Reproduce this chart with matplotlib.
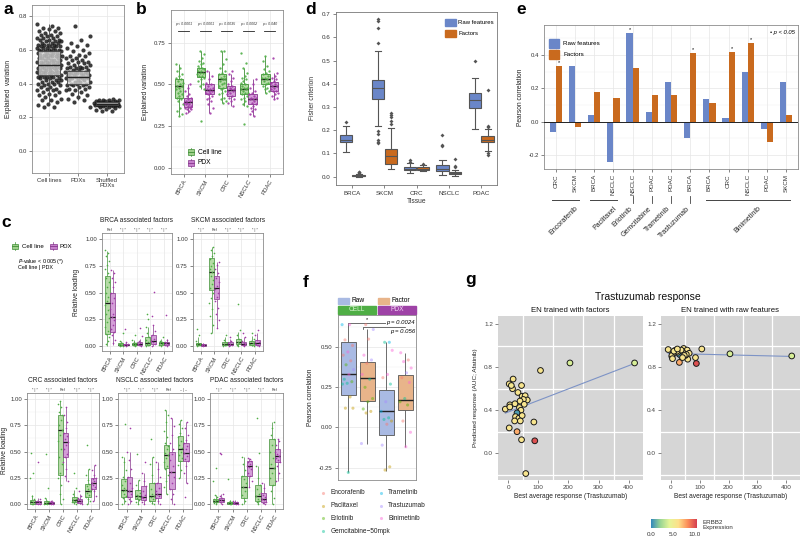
import numpy as np
import matplotlib
matplotlib.use("Agg")
import matplotlib.pyplot as plt
from matplotlib.patches import Rectangle
from matplotlib.transforms import blended_transform_factory as btf
from matplotlib.colors import LinearSegmentedColormap, Normalize

plt.rcParams['font.family'] = ['Liberation Sans', 'DejaVu Sans']
plt.rcParams['axes.linewidth'] = 0.6
plt.rcParams['axes.unicode_minus'] = False

# ============================ DATA ============================
# ---- panel a : explained variation ----
a_groups = ["Cell lines", "PDXs", "Shuffled\nPDXs"]
a_cell = [0.75, 0.74, 0.73, 0.73, 0.72, 0.71, 0.71, 0.70, 0.70, 0.69, 0.69, 0.68, 0.68, 0.67, 0.67, 0.67, 0.66, 0.66, 0.66, 0.65,
          0.65, 0.65, 0.64, 0.64, 0.64, 0.63, 0.63, 0.63, 0.63, 0.62, 0.62, 0.62, 0.62, 0.61, 0.61, 0.61, 0.61, 0.60, 0.60, 0.60,
          0.60, 0.59, 0.59, 0.59, 0.59, 0.58, 0.58, 0.58, 0.58, 0.57, 0.57, 0.57, 0.57, 0.56, 0.56, 0.56, 0.56, 0.55, 0.55, 0.55,
          0.55, 0.54, 0.54, 0.54, 0.54, 0.53, 0.53, 0.53, 0.53, 0.52, 0.52, 0.52, 0.52, 0.51, 0.51, 0.51, 0.51, 0.50, 0.50, 0.50,
          0.50, 0.49, 0.49, 0.49, 0.49, 0.48, 0.48, 0.48, 0.48, 0.47, 0.47, 0.47, 0.47, 0.46, 0.46, 0.46, 0.46, 0.45, 0.45, 0.45,
          0.45, 0.44, 0.44, 0.44, 0.44, 0.43, 0.43, 0.43, 0.42, 0.42, 0.42, 0.41, 0.41, 0.41, 0.40, 0.40, 0.40, 0.39, 0.39, 0.38,
          0.38, 0.37, 0.37, 0.36, 0.36, 0.35, 0.35, 0.34, 0.33, 0.33, 0.32, 0.31, 0.30, 0.30, 0.29, 0.28, 0.27, 0.26, 0.26]
a_pdx = [0.74, 0.68, 0.66, 0.64, 0.63, 0.62, 0.61, 0.60, 0.59, 0.58, 0.57, 0.56, 0.56, 0.55, 0.55, 0.54, 0.54, 0.53, 0.53, 0.52,
         0.52, 0.51, 0.51, 0.50, 0.50, 0.50, 0.49, 0.49, 0.49, 0.48, 0.48, 0.48, 0.47, 0.47, 0.47, 0.47, 0.46, 0.46, 0.46, 0.46,
         0.45, 0.45, 0.45, 0.45, 0.44, 0.44, 0.44, 0.44, 0.43, 0.43, 0.43, 0.43, 0.42, 0.42, 0.42, 0.41, 0.41, 0.41, 0.40, 0.40,
         0.40, 0.39, 0.39, 0.39, 0.38, 0.38, 0.37, 0.37, 0.36, 0.36, 0.35, 0.34, 0.33, 0.32, 0.31, 0.30, 0.29, 0.26]
a_shuf = [0.31, 0.305, 0.30, 0.30, 0.30, 0.295, 0.295, 0.295, 0.29, 0.29, 0.29, 0.29, 0.29, 0.285, 0.285, 0.285, 0.285, 0.285,
          0.28, 0.28, 0.28, 0.28, 0.28, 0.28, 0.28, 0.275, 0.275, 0.275, 0.275, 0.275, 0.27, 0.27, 0.27, 0.27, 0.265, 0.265,
          0.265, 0.26, 0.26, 0.255, 0.25, 0.245, 0.24, 0.235]
a_box = [(0.45, 0.51, 0.59, 0.27, 0.75), (0.40, 0.44, 0.475, 0.30, 0.58), (0.27, 0.28, 0.29, 0.25, 0.31)]  # q1, med, q3, lo, hi

# ---- panel b ----
tissues = ["BRCA", "SKCM", "CRC", "NSCLC", "PDAC"]
b_cell_box = [(0.42, 0.49, 0.535, 0.31, 0.62), (0.545, 0.575, 0.60, 0.47, 0.70), (0.48, 0.53, 0.56, 0.39, 0.70),
              (0.44, 0.475, 0.505, 0.37, 0.60), (0.50, 0.535, 0.565, 0.45, 0.67)]
b_pdx_box = [(0.365, 0.395, 0.42, 0.33, 0.50), (0.44, 0.465, 0.50, 0.33, 0.58), (0.43, 0.465, 0.49, 0.37, 0.56),
             (0.38, 0.415, 0.445, 0.31, 0.53), (0.46, 0.49, 0.515, 0.41, 0.57)]
b_cell_pts = [[0.62, 0.60, 0.58, 0.56, 0.55, 0.54, 0.53, 0.52, 0.51, 0.50, 0.49, 0.49, 0.48, 0.47, 0.46, 0.45, 0.44, 0.43, 0.42, 0.41, 0.40, 0.38, 0.36, 0.34, 0.32, 0.31],
              [0.70, 0.68, 0.66, 0.64, 0.63, 0.62, 0.61, 0.60, 0.60, 0.59, 0.58, 0.58, 0.57, 0.57, 0.56, 0.55, 0.55, 0.54, 0.53, 0.52, 0.50, 0.49, 0.47, 0.28],
              [0.70, 0.70, 0.65, 0.62, 0.60, 0.58, 0.57, 0.56, 0.55, 0.54, 0.53, 0.53, 0.52, 0.51, 0.50, 0.49, 0.48, 0.47, 0.46, 0.45, 0.44, 0.42, 0.41, 0.40, 0.39],
              [0.69, 0.63, 0.60, 0.57, 0.55, 0.54, 0.53, 0.52, 0.51, 0.50, 0.49, 0.48, 0.48, 0.47, 0.47, 0.46, 0.45, 0.45, 0.44, 0.43, 0.42, 0.41, 0.40, 0.38, 0.37, 0.26],
              [0.67, 0.64, 0.61, 0.59, 0.58, 0.57, 0.56, 0.55, 0.54, 0.54, 0.53, 0.52, 0.51, 0.50, 0.49, 0.48, 0.47, 0.46, 0.45]]
b_pdx_pts = [[0.50, 0.48, 0.46, 0.44, 0.43, 0.42, 0.41, 0.40, 0.40, 0.39, 0.39, 0.38, 0.38, 0.37, 0.37, 0.36, 0.36, 0.35, 0.35, 0.34, 0.33],
             [0.58, 0.55, 0.53, 0.51, 0.50, 0.49, 0.48, 0.47, 0.47, 0.46, 0.46, 0.45, 0.45, 0.44, 0.43, 0.42, 0.41, 0.40, 0.38, 0.36, 0.33],
             [0.58, 0.56, 0.54, 0.52, 0.50, 0.49, 0.48, 0.47, 0.47, 0.46, 0.46, 0.45, 0.44, 0.43, 0.42, 0.41, 0.40, 0.39, 0.37],
             [0.53, 0.50, 0.48, 0.46, 0.45, 0.44, 0.43, 0.42, 0.42, 0.41, 0.41, 0.40, 0.39, 0.38, 0.37, 0.36, 0.35, 0.34, 0.32, 0.31],
             [0.66, 0.57, 0.55, 0.54, 0.53, 0.52, 0.51, 0.50, 0.49, 0.49, 0.48, 0.47, 0.46, 0.46, 0.45, 0.44, 0.43, 0.42, 0.41]]
b_pvals = ["p < 0.0001", "p < 0.0001", "p = 0.0035", "p = 0.0002", "p = 0.040"]

# ---- panel c : relative loadings (q1, med, q3, lo, hi) per tissue ----
c_panels = ["BRCA", "SKCM", "CRC", "NSCLC", "PDAC"]
c_brca_cell = [(0.11, 0.40, 0.66, 0.0, 0.89), (0.005, 0.01, 0.025, 0.0, 0.05), (0.005, 0.015, 0.03, 0.0, 0.06), (0.01, 0.03, 0.08, 0.0, 0.18), (0.01, 0.025, 0.04, 0.0, 0.07)]
c_brca_pdx = [(0.13, 0.27, 0.50, 0.01, 0.71), (0.005, 0.01, 0.02, 0.0, 0.04), (0.01, 0.02, 0.035, 0.0, 0.07), (0.02, 0.05, 0.10, 0.0, 0.20), (0.01, 0.025, 0.04, 0.0, 0.07)]
c_skcm_cell = [(0.005, 0.015, 0.03, 0.0, 0.08), (0.52, 0.69, 0.82, 0.12, 0.93), (0.01, 0.02, 0.04, 0.0, 0.08), (0.02, 0.04, 0.07, 0.0, 0.13), (0.01, 0.025, 0.045, 0.0, 0.09)]
c_skcm_pdx = [(0.003, 0.008, 0.015, 0.0, 0.03), (0.44, 0.54, 0.66, 0.17, 0.79), (0.01, 0.02, 0.035, 0.0, 0.07), (0.01, 0.02, 0.04, 0.0, 0.08), (0.01, 0.03, 0.06, 0.0, 0.12)]
c_crc_cell = [(0.005, 0.02, 0.04, 0.0, 0.09), (0.005, 0.01, 0.03, 0.0, 0.06), (0.28, 0.71, 0.85, 0.0, 0.98), (0.02, 0.04, 0.07, 0.0, 0.13), (0.07, 0.12, 0.19, 0.0, 0.33)]
c_crc_pdx = [(0.005, 0.015, 0.03, 0.0, 0.06), (0.005, 0.01, 0.02, 0.0, 0.04), (0.45, 0.59, 0.68, 0.22, 0.92), (0.01, 0.03, 0.05, 0.0, 0.10), (0.14, 0.20, 0.25, 0.03, 0.37)]
c_nsclc_cell = [(0.07, 0.13, 0.24, 0.0, 0.45), (0.05, 0.08, 0.13, 0.0, 0.23), (0.03, 0.08, 0.20, 0.0, 0.45), (0.34, 0.47, 0.56, 0.10, 0.90), (0.41, 0.52, 0.65, 0.25, 0.80)]
c_nsclc_pdx = [(0.07, 0.12, 0.26, 0.0, 0.50), (0.04, 0.07, 0.17, 0.0, 0.30), (0.06, 0.10, 0.20, 0.0, 0.40), (0.14, 0.31, 0.50, 0.0, 0.82), (0.41, 0.49, 0.58, 0.20, 0.78)]
c_pdac_cell = [(0.02, 0.03, 0.05, 0.0, 0.09), (0.005, 0.01, 0.02, 0.0, 0.04), (0.06, 0.16, 0.27, 0.0, 0.45), (0.03, 0.08, 0.18, 0.0, 0.36), (0.18, 0.34, 0.62, 0.0, 0.78)]
c_pdac_pdx = [(0.02, 0.035, 0.06, 0.0, 0.10), (0.005, 0.01, 0.02, 0.0, 0.04), (0.27, 0.36, 0.41, 0.16, 0.44), (0.02, 0.05, 0.11, 0.0, 0.20), (0.40, 0.46, 0.52, 0.22, 0.62)]

c_brca_cell_pts = [[0.90, 0.87, 0.84, 0.80, 0.76, 0.72, 0.68, 0.64, 0.60, 0.55, 0.50, 0.46, 0.42, 0.38, 0.34, 0.30, 0.26, 0.22, 0.18, 0.14, 0.11, 0.08, 0.05, 0.02],
                   [0.0, 0.0, 0.005, 0.01, 0.01, 0.015, 0.02, 0.03, 0.05, 0.12], [0.0, 0.005, 0.01, 0.015, 0.02, 0.03, 0.04, 0.06, 0.10],
                   [0.0, 0.01, 0.02, 0.03, 0.04, 0.06, 0.08, 0.12, 0.18, 0.25, 0.30], [0.0, 0.01, 0.02, 0.025, 0.03, 0.04, 0.05, 0.08]]
c_brca_pdx_pts = [[0.71, 0.68, 0.64, 0.60, 0.55, 0.50, 0.45, 0.40, 0.35, 0.30, 0.27, 0.24, 0.20, 0.16, 0.13, 0.10, 0.06, 0.03],
                  [0.0, 0.005, 0.01, 0.015, 0.02, 0.04, 0.16], [0.0, 0.01, 0.02, 0.03, 0.05, 0.09, 0.17],
                  [0.0, 0.02, 0.04, 0.05, 0.07, 0.10, 0.14, 0.20, 0.28, 0.51], [0.0, 0.01, 0.02, 0.03, 0.04, 0.06, 0.29]]
c_skcm_cell_pts = [[0.0, 0.005, 0.01, 0.015, 0.02, 0.03, 0.05, 0.10, 0.16],
                   [0.93, 0.90, 0.87, 0.84, 0.81, 0.78, 0.75, 0.72, 0.69, 0.66, 0.62, 0.58, 0.54, 0.50, 0.45, 0.40, 0.35, 0.28, 0.20, 0.12],
                   [0.0, 0.01, 0.02, 0.03, 0.04, 0.06, 0.10], [0.0, 0.01, 0.03, 0.04, 0.05, 0.07, 0.10, 0.15, 0.39], [0.0, 0.01, 0.02, 0.03, 0.05, 0.07, 0.12]]
c_skcm_pdx_pts = [[0.0, 0.005, 0.01, 0.02],
                  [0.79, 0.76, 0.72, 0.68, 0.64, 0.60, 0.56, 0.53, 0.50, 0.46, 0.42, 0.36, 0.30, 0.24, 0.17],
                  [0.0, 0.01, 0.02, 0.03, 0.05, 0.08], [0.0, 0.01, 0.02, 0.03, 0.05, 0.08, 0.12], [0.0, 0.01, 0.02, 0.04, 0.06, 0.10, 0.15]]
c_crc_cell_pts = [[0.0, 0.005, 0.01, 0.02, 0.03, 0.05, 0.08, 0.25, 0.30, 0.49], [0.0, 0.005, 0.01, 0.02, 0.03, 0.06, 0.15, 0.48],
                  [0.98, 0.95, 0.92, 0.88, 0.85, 0.80, 0.75, 0.71, 0.66, 0.60, 0.52, 0.45, 0.38, 0.30, 0.25, 0.18, 0.10, 0.05, 0.0],
                  [0.0, 0.01, 0.02, 0.03, 0.04, 0.05, 0.07, 0.10, 0.15, 0.30],
                  [0.0, 0.03, 0.05, 0.07, 0.09, 0.11, 0.12, 0.14, 0.17, 0.19, 0.23, 0.28, 0.33, 0.56]]
c_crc_pdx_pts = [[0.0, 0.005, 0.01, 0.02, 0.03, 0.05, 0.40], [0.0, 0.005, 0.01, 0.015, 0.02, 0.03],
                 [0.92, 0.85, 0.78, 0.72, 0.68, 0.65, 0.62, 0.59, 0.56, 0.52, 0.48, 0.45, 0.40, 0.33, 0.27, 0.22],
                 [0.0, 0.01, 0.02, 0.03, 0.04, 0.06, 0.08, 0.12],
                 [0.03, 0.08, 0.12, 0.14, 0.16, 0.18, 0.20, 0.22, 0.24, 0.25, 0.28, 0.32, 0.37]]
c_nsclc_cell_pts = [[0.0, 0.03, 0.06, 0.08, 0.10, 0.12, 0.13, 0.15, 0.18, 0.22, 0.26, 0.32, 0.40, 0.45, 0.76],
                    [0.0, 0.02, 0.04, 0.06, 0.07, 0.08, 0.09, 0.11, 0.13, 0.18, 0.23, 0.48],
                    [0.0, 0.01, 0.03, 0.05, 0.07, 0.08, 0.10, 0.14, 0.20, 0.28, 0.38, 0.45, 0.62],
                    [0.90, 0.85, 0.78, 0.70, 0.64, 0.58, 0.55, 0.52, 0.49, 0.47, 0.44, 0.40, 0.36, 0.33, 0.28, 0.22, 0.16, 0.10],
                    [0.80, 0.76, 0.72, 0.68, 0.64, 0.60, 0.56, 0.53, 0.50, 0.47, 0.44, 0.41, 0.37, 0.32, 0.25]]
c_nsclc_pdx_pts = [[0.0, 0.03, 0.05, 0.07, 0.10, 0.12, 0.15, 0.20, 0.26, 0.33, 0.42, 0.50, 0.72],
                   [0.0, 0.02, 0.04, 0.06, 0.07, 0.09, 0.12, 0.17, 0.22, 0.30, 0.40],
                   [0.0, 0.03, 0.06, 0.08, 0.10, 0.12, 0.15, 0.20, 0.26, 0.33, 0.40],
                   [0.82, 0.74, 0.66, 0.58, 0.52, 0.48, 0.42, 0.36, 0.31, 0.26, 0.20, 0.14, 0.10, 0.05, 0.0],
                   [0.78, 0.72, 0.66, 0.61, 0.58, 0.55, 0.52, 0.49, 0.46, 0.43, 0.41, 0.36, 0.30, 0.20, 0.07]]
c_pdac_cell_pts = [[0.0, 0.01, 0.02, 0.03, 0.035, 0.04, 0.05, 0.07, 0.09, 0.22, 0.34], [0.0, 0.005, 0.01, 0.01, 0.015, 0.02, 0.03, 0.24],
                   [0.0, 0.03, 0.06, 0.09, 0.12, 0.16, 0.20, 0.24, 0.27, 0.32, 0.38, 0.45],
                   [0.0, 0.02, 0.03, 0.05, 0.08, 0.10, 0.14, 0.18, 0.25, 0.36, 0.49, 0.82],
                   [0.78, 0.72, 0.66, 0.62, 0.56, 0.50, 0.44, 0.38, 0.34, 0.30, 0.25, 0.18, 0.12, 0.06, 0.0]]
c_pdac_pdx_pts = [[0.0, 0.02, 0.03, 0.04, 0.05, 0.06, 0.08, 0.10, 0.48, 0.49], [0.0, 0.005, 0.01, 0.015, 0.02, 0.03],
                  [0.16, 0.22, 0.27, 0.30, 0.33, 0.35, 0.36, 0.38, 0.40, 0.41, 0.43, 0.44],
                  [0.0, 0.01, 0.02, 0.04, 0.05, 0.07, 0.09, 0.11, 0.15, 0.20],
                  [0.22, 0.30, 0.36, 0.40, 0.42, 0.44, 0.46, 0.48, 0.50, 0.52, 0.56, 0.60, 0.62]]
c_marks = [["Ref", "* | *", "* | *", "* | *", "* | *"],
           ["* | *", "Ref", "* | *", "* | *", "* | *"],
           ["* | *", "* | *", "Ref", "* | *", "* | *"],
           ["* | *", "* | *", "* | *", "Ref", "\u2013 | \u2013"],
           ["* | *", "* | *", "* | *", "* | *", "Ref"]]

# ---- panel d : Fisher criterion ----
d_raw_box = [(0.148, 0.16, 0.178, 0.108, 0.218), (0.333, 0.38, 0.418, 0.218, 0.54), (0.030, 0.035, 0.042, 0.015, 0.06),
             (0.025, 0.035, 0.05, 0.005, 0.07), (0.295, 0.33, 0.36, 0.205, 0.425)]
d_fac_box = [(0.001, 0.003, 0.006, 0.0, 0.012), (0.055, 0.088, 0.12, 0.035, 0.21), (0.030, 0.035, 0.04, 0.025, 0.05),
             (0.010, 0.015, 0.02, 0.002, 0.03), (0.148, 0.16, 0.175, 0.11, 0.205)]
d_raw_fliers = [[0.235], [0.578, 0.642, 0.673, 0.68, 0.195, 0.185, 0.16, 0.15, 0.145], [0.065, 0.072], [0.13, 0.135, 0.18], [0.50]]
d_fac_fliers = [[0.015, 0.018, 0.021], [0.225, 0.24, 0.255, 0.265, 0.275], [0.055], [0.04, 0.045, 0.078], [0.215, 0.22, 0.372, 0.10, 0.095]]

# ---- panel e : Pearson correlation per drug / tissue ----
e_tissues = ["CRC", "SKCM", "BRCA", "NSCLC", "NSCLC", "PDAC", "PDAC", "BRCA", "BRCA", "CRC", "NSCLC", "PDAC", "SKCM"]
e_raw = [-0.06, 0.335, 0.04, -0.245, 0.53, 0.06, 0.235, -0.10, 0.135, 0.02, 0.30, -0.045, 0.24]
e_fac = [0.335, -0.035, 0.18, 0.14, 0.32, 0.16, 0.16, 0.41, 0.11, 0.42, 0.47, -0.12, 0.04]
e_sig_raw = [0, 0, 0, 0, 1, 0, 0, 0, 0, 0, 0, 0, 0]
e_sig_fac = [1, 0, 0, 0, 0, 0, 0, 1, 0, 1, 1, 0, 0]
e_drugs = ["Encorafenib", "Paclitaxel", "Erlotinib", "Gemcitabine", "Trametinib", "Trastuzumab", "Binimetinib"]
e_drug_span = [(1, 2), (3, 4), (5, 5), (6, 6), (7, 7), (8, 8), (9, 13)]

# ---- panel f ----
f_labels = ["Raw", "Factor", "Raw", "Factor"]
f_box = [(0.20, 0.335, 0.535, -0.28, 0.64), (0.165, 0.305, 0.41, -0.10, 0.61),
         (-0.05, 0.10, 0.235, -0.27, 0.53), (0.11, 0.17, 0.325, -0.12, 0.465)]
f_drugs = ["Encorafenib", "Paclitaxel", "Erlotinib", "Gemcitabine\u221250mpk", "Trametinib", "Trastuzumab", "Binimetinib"]
f_pts_val = [[0.64, 0.64, 0.545, 0.51, 0.47, 0.45, 0.415, 0.39, 0.36, 0.33, 0.30, 0.285, 0.275, 0.27, 0.19, 0.12, 0.12, -0.28],
             [0.64, 0.61, 0.55, 0.45, 0.42, 0.40, 0.33, 0.30, 0.25, 0.18, 0.16, 0.115, 0.10, 0.09, -0.10],
             [0.53, 0.53, 0.48, 0.33, 0.31, 0.27, 0.16, 0.10, 0.06, 0.05, 0.04, 0.02, -0.11, -0.245, -0.265],
             [0.465, 0.42, 0.41, 0.37, 0.34, 0.31, 0.28, 0.18, 0.16, 0.14, 0.04, -0.03, -0.12]]
f_pts_drug = [[4, 6, 0, 0, 6, 0, 0, 2, 5, 6, 3, 2, 3, 3, 1, 1, 1, 3],
              [0, 5, 0, 6, 5, 0, 6, 3, 2, 2, 2, 2, 1, 1, 5],
              [4, 3, 6, 6, 0, 3, 5, 4, 3, 3, 1, 0, 5, 1, 1],
              [6, 0, 6, 6, 5, 0, 6, 3, 2, 2, 0, 6, 6]]
f_pvals = ["p = 0.0024", "p = 0.056"]

# ---- panel g : Trastuzumab response ----
g_best = [420, 205, 107, 85, 88, 58, 44, 29, 3, -10, 5, 3, 16, 14, 32, 44, 46, 56, 63, 50, 39, 53, 37, 42, 29, 24, 35, 46, 21, 40, 5, 10, 22]
g_pred_fac = [0.84, 0.84, 0.77, 0.29, 0.115, -0.19, 0.125, 0.20, 0.235, 0.41, 0.45, 0.645, 0.69, 0.60, 0.565, 0.63, 0.53, 0.535,
              0.495, 0.50, 0.485, 0.455, 0.425, 0.40, 0.375, 0.34, 0.325, 0.35, 0.30, 0.30, 0.43, 0.63, 0.46]
g_pred_raw = [0.905, 0.925, 0.97, 0.89, 0.835, 0.875, 0.93, 0.845, 0.90, 0.965, 0.92, 0.91, 0.96, 0.94, 0.955, 0.975, 0.94, 0.96,
              0.93, 0.91, 0.95, 0.92, 0.90, 0.93, 0.92, 0.94, 0.96, 0.91, 0.95, 0.89, 0.88, 0.95, 0.97]
g_erbb2 = [3.8, 3.8, 5.8, 5.8, 10.0, 5.8, 5.8, 7.6, 5.8, 5.8, 5.8, 5.8, 5.8, 5.8, 5.8, 5.8, 5.8, 5.8,
           5.8, 5.8, 5.8, 5.8, 5.8, 5.8, 0.6, 5.8, 5.8, 5.8, 5.8, 5.8, 5.8, 5.5, 5.8]

# ============================ DRAWING ============================
W, H = 800, 537
TFS = 4.3   # tick label size
LFS = 4.8   # axis title size
fig = plt.figure(figsize=(8, 5.37), dpi=100)


def pax(l, t, r, b):
    return fig.add_axes([l / W, 1 - b / H, (r - l) / W, (b - t) / H])


def jit(n, w, k=0):
    return ((np.arange(n) * 0.6180339887 + 0.37 * k) % 1.0 - 0.5) * 2 * w


def box(ax, x, w, st, fc, ec, lw=0.6, mc=None, mlw=1.0, z=3, cap=0.0):
    q1, med, q3, lo, hi = st
    ax.plot([x, x], [lo, q1], color=ec, lw=lw, zorder=z - 0.2, solid_capstyle='butt')
    ax.plot([x, x], [q3, hi], color=ec, lw=lw, zorder=z - 0.2, solid_capstyle='butt')
    if cap:
        ax.plot([x - cap / 2, x + cap / 2], [lo, lo], color=ec, lw=lw, zorder=z - 0.2)
        ax.plot([x - cap / 2, x + cap / 2], [hi, hi], color=ec, lw=lw, zorder=z - 0.2)
    ax.add_patch(Rectangle((x - w / 2, q1), w, q3 - q1, facecolor=fc, edgecolor=ec, lw=lw, zorder=z))
    ax.plot([x - w / 2, x + w / 2], [med, med], color=mc or ec, lw=mlw, zorder=z + 0.1, solid_capstyle='butt')


def style_bw(ax, fs=TFS, minor_y=None):
    ax.set_facecolor('white')
    for s in ax.spines.values():
        s.set_color('#8c8c8c')
        s.set_linewidth(0.6)
    ax.grid(True, color='#e6e6e6', lw=0.5)
    ax.set_axisbelow(True)
    ax.tick_params(length=2, width=0.5, color='#555555', labelsize=fs, pad=1.5, labelcolor='#333333')
    if minor_y is not None:
        for v in minor_y:
            ax.axhline(v, color='#f2f2f2', lw=0.35, zorder=0)


GREEN_F, GREEN_E, GREEN_P = '#9fd08b', '#3f8f36', '#4fae45'
PURP_F, PURP_E, PURP_P = '#c67fcc', '#86358c', '#a23aa8'

# ---------------- panel a ----------------
axA = pax(32, 5, 124, 173)
style_bw(axA, minor_y=[0.1, 0.3, 0.5, 0.7])
for i, vals in enumerate([a_cell, a_pdx, a_shuf]):
    x = i + 1
    axA.scatter(x + jit(len(vals), 0.44, i), vals, s=9, c='#1a1a1a', alpha=0.85, lw=0, zorder=2)
    box(axA, x, 0.75, a_box[i], fc=(0.88, 0.88, 0.88, 0.72), ec='#444444', mc='#222222', mlw=1.0, z=3)
axA.set_xlim(0.4, 3.6)
axA.set_ylim(-0.13, 0.865)
axA.set_yticks([0.0, 0.2, 0.4, 0.6, 0.8])
axA.set_yticklabels(["0.0", "0.2", "0.4", "0.6", "0.8"])
axA.set_xticks([1, 2, 3])
axA.set_xticklabels(a_groups, fontsize=TFS, linespacing=1.0)
axA.set_ylabel("Explained  variation", fontsize=LFS, labelpad=5, color='#222')

# ---------------- panel b ----------------
axB = pax(170.7, 10, 282.7, 174)
style_bw(axB, minor_y=[0.125, 0.375, 0.625, 0.875])
for i in range(5):
    x = i + 1
    for off, st, pts, fc, ec, pc, k in [(-0.2, b_cell_box[i], b_cell_pts[i], GREEN_F, GREEN_E, GREEN_P, i),
                                        (0.2, b_pdx_box[i], b_pdx_pts[i], PURP_F, PURP_E, PURP_P, i + 5)]:
        box(axB, x + off, 0.38, st, fc=fc + 'c0', ec=ec, mc='#1a1a1a', mlw=1.0, z=2)
        axB.scatter(x + off + jit(len(pts), 0.17, k), pts, s=2.8, c=pc, lw=0, alpha=0.9, zorder=4)
    axB.plot([x - 0.25, x + 0.25], [0.82, 0.82], color='#222', lw=0.6)
    axB.text(x, 0.862, b_pvals[i], fontsize=2.6, ha='center', va='center', color='#333', style='italic')
axB.set_xlim(0.4, 5.6)
axB.set_ylim(-0.038, 0.946)
axB.set_yticks([0, 0.25, 0.5, 0.75])
axB.set_yticklabels(["0.00", "0.25", "0.50", "0.75"])
axB.set_xticks(range(1, 6))
axB.set_xticklabels(tissues, rotation=60, ha='right', rotation_mode='anchor', fontsize=TFS)
axB.set_ylabel("Explained variation", fontsize=LFS, labelpad=4, color='#222')

# ---------------- panel c ----------------
c_pos = [(101.7, 233, 172, 351), (192.7, 233, 262.7, 351), (26.7, 393, 99.3, 509), (118.3, 393, 191.7, 509), (210, 393, 283.3, 509)]
c_cell_all = [c_brca_cell, c_skcm_cell, c_crc_cell, c_nsclc_cell, c_pdac_cell]
c_pdx_all = [c_brca_pdx, c_skcm_pdx, c_crc_pdx, c_nsclc_pdx, c_pdac_pdx]
c_cellp_all = [c_brca_cell_pts, c_skcm_cell_pts, c_crc_cell_pts, c_nsclc_cell_pts, c_pdac_cell_pts]
c_pdxp_all = [c_brca_pdx_pts, c_skcm_pdx_pts, c_crc_pdx_pts, c_nsclc_pdx_pts, c_pdac_pdx_pts]
for p in range(5):
    ax = pax(*c_pos[p])
    style_bw(ax, minor_y=[0.125, 0.375, 0.625, 0.875])
    for i in range(5):
        x = i + 1
        box(ax, x - 0.2, 0.38, c_cell_all[p][i], fc=GREEN_F + 'c0', ec=GREEN_E, mc='#1a1a1a', mlw=0.9, lw=0.5, z=2)
        box(ax, x + 0.2, 0.38, c_pdx_all[p][i], fc=PURP_F + 'c0', ec=PURP_E, mc='#1a1a1a', mlw=0.9, lw=0.5, z=2)
        cp = c_cellp_all[p][i]
        pp = c_pdxp_all[p][i]
        ax.scatter(x - 0.2 + jit(len(cp), 0.17, i + p), cp, s=1.4, c=GREEN_P, lw=0, zorder=4)
        ax.scatter(x + 0.2 + jit(len(pp), 0.17, i + p + 3), pp, s=1.4, c=PURP_P, lw=0, zorder=4)
        ax.text(x, 1.008, c_marks[p][i], transform=btf(ax.transData, ax.transAxes), fontsize=2.6,
                ha='center', va='bottom', color='#333')
    ax.set_xlim(0.4, 5.6)
    ax.set_ylim(-0.047, 1.058)
    ax.set_yticks([0, 0.25, 0.5, 0.75, 1.0])
    ax.set_yticklabels(["0.00", "0.25", "0.50", "0.75", "1.00"])
    ax.set_xticks(range(1, 6))
    ax.set_xticklabels(tissues, rotation=60, ha='right', rotation_mode='anchor', fontsize=TFS)
    ax.text(0.5, 1.075, c_panels[p] + " associated factors", transform=ax.transAxes, ha='center', va='bottom',
            fontsize=4.8, color='#222')
    if p == 0:
        ax.set_ylabel("Relative loading", fontsize=LFS, labelpad=4, color='#222')

# ---------------- panel d ----------------
axD = pax(336, 11.7, 497.3, 185)
axD.set_facecolor('white')
for s in axD.spines.values():
    s.set_color('#777777')
    s.set_linewidth(0.6)
RAW_C, FAC_C = '#6a86c8', '#c96a1e'
for i in range(5):
    for off, st, fl, fc in [(-0.2, d_raw_box[i], d_raw_fliers[i], RAW_C), (0.2, d_fac_box[i], d_fac_fliers[i], FAC_C)]:
        box(axD, i + off, 0.38, st, fc=fc, ec='#555555', mc='#555555', mlw=0.8, lw=0.8, z=2, cap=0.19)
        axD.scatter([i + off] * len(fl), fl, marker='D', s=4, c='#555555', lw=0, zorder=3)
axD.set_xlim(-0.5, 4.5)
axD.set_ylim(-0.036, 0.711)
axD.set_yticks(np.arange(0, 0.71, 0.1))
axD.set_yticklabels(["0.0", "0.1", "0.2", "0.3", "0.4", "0.5", "0.6", "0.7"])
axD.set_xticks(range(5))
axD.set_xticklabels(tissues)
axD.tick_params(length=2, width=0.5, labelsize=4.5, pad=2, color='#555', labelcolor='#333')
axD.set_xlabel("Tissue", fontsize=LFS, labelpad=2, color='#333')
axD.set_ylabel("Fisher criterion", fontsize=LFS, labelpad=4, color='#333')

# ---------------- panel e ----------------
axE = pax(544.3, 25, 797.7, 169.3)
style_bw(axE, minor_y=[-0.1, 0.1, 0.3, 0.5])
xe = np.arange(1, 14)
axE.bar(xe - 0.16, e_raw, width=0.32, color=RAW_C, zorder=2)
axE.bar(xe + 0.16, e_fac, width=0.32, color=FAC_C, zorder=2)
axE.axhline(0, color='#222', lw=0.7, zorder=3)
for i in range(13):
    if e_sig_raw[i]:
        axE.text(xe[i] - 0.16, e_raw[i] + 0.005, "*", ha='center', va='bottom', fontsize=4)
    if e_sig_fac[i]:
        axE.text(xe[i] + 0.16, e_fac[i] + 0.005, "*", ha='center', va='bottom', fontsize=4)
axE.set_xlim(0.4, 13.6)
axE.set_ylim(-0.286, 0.58)
axE.set_yticks([-0.2, 0.0, 0.2, 0.4])
axE.set_yticklabels(["-0.2", "0.0", "0.2", "0.4"])
axE.set_xticks(xe)
axE.set_xticklabels(e_tissues, rotation=90, fontsize=4.5)
axE.set_ylabel("Pearson correlation", fontsize=LFS, labelpad=4, color='#222')
axE.text(0.99, 0.95, "\u2022 p < 0.05", transform=axE.transAxes, ha='right', va='center', fontsize=4.2, style='italic')
# legend e
axE.add_patch(Rectangle((0.018, 0.84), 0.04, 0.065, transform=axE.transAxes, color=RAW_C))
axE.add_patch(Rectangle((0.018, 0.765), 0.04, 0.065, transform=axE.transAxes, color=FAC_C))
axE.text(0.075, 0.872, "Raw features", transform=axE.transAxes, fontsize=4.5, va='center')
axE.text(0.075, 0.797, "Factors", transform=axE.transAxes, fontsize=4.5, va='center')

# drug grouping under e
te = btf(axE.transData, axE.transAxes)
ax_px_h = 169.3 - 25
for (s0, s1), name in zip(e_drug_span, e_drugs):
    if s0 == s1:
        axE.plot([s0, s0], [-(196 - 169.3) / ax_px_h, -(203 - 169.3) / ax_px_h], transform=te, clip_on=False,
                 color='#444', lw=0.6)
        xa = s0 - 0.2
    else:
        axE.plot([s0 - 0.2, s1 + 0.2], [-(200 - 169.3) / ax_px_h] * 2, transform=te, clip_on=False,
                 color='#444', lw=0.7)
        xa = (s0 + s1) / 2 + 0.5
    axE.text(xa, -(205 - 169.3) / ax_px_h, name, transform=te, rotation=45, ha='right', va='top',
             rotation_mode='anchor', fontsize=5, color='#222')

# ---------------- panel f ----------------
axF = pax(337.7, 315, 416, 480)
style_bw(axF, minor_y=[-0.125, 0.125, 0.375, 0.625])
f_fill = ['#a9bae3', '#e8b48a', '#a9bae3', '#e8b48a']
f_dcol = ['#F8766D', '#C49A00', '#53B400', '#00C094', '#00B6EB', '#A58AFF', '#FB61D7']
for i in range(4):
    box(axF, i + 1, 0.78, f_box[i], fc=f_fill[i], ec='#555555', mc='#222222', mlw=1.0, lw=0.6, z=2)
    vals = f_pts_val[i]
    cols = [f_dcol[d] for d in f_pts_drug[i]]
    axF.scatter(i + 1 + jit(len(vals), 0.32, i), vals, s=5, c=cols, alpha=0.45, lw=0, zorder=4)
axF.plot([1, 1, 3.1], [0.635, 0.653, 0.653], color='#333', lw=0.5)
axF.plot([1.75, 1.75, 4.0], [0.612, 0.628, 0.628], color='#333', lw=0.5)
axF.text(2.0, 0.657, "*", ha='center', va='bottom', fontsize=4)
axF.text(4.5, 0.653, f_pvals[0], ha='right', va='center', fontsize=4.3, style='italic',
         bbox=dict(fc='white', ec='none', pad=0.2))
axF.text(4.5, 0.598, f_pvals[1], ha='right', va='center', fontsize=4.3, style='italic')
axF.set_xlim(0.45, 4.55)
axF.set_ylim(-0.327, 0.70)
axF.set_xticks([])
axF.set_yticks([-0.25, 0, 0.25, 0.5])
axF.set_yticklabels(["-0.25", "0.00", "0.25", "0.50"])
axF.set_ylabel("Pearson correlation", fontsize=LFS, labelpad=4, color='#222')
axF.grid(True, axis='x', color='#e6e6e6', lw=0.5)

# ---------------- panel g ----------------
g_cmap = LinearSegmentedColormap.from_list('erbb2', ['#3288bd', '#99d594', '#e6f598', '#fee08b', '#fc8d59', '#d53e4f'])
g_norm = Normalize(0, 10.5)
for k, (pos, yvals, ttl) in enumerate([((497.8, 315.7, 642.7, 480), g_pred_fac, "EN trained with factors"),
                                       ((661, 315.7, 799.5, 480), g_pred_raw, "EN trained with raw features")]):
    ax = pax(*pos)
    ax.set_facecolor('#d6d6d6')
    for s in ax.spines.values():
        s.set_visible(False)
    for v in [50, 150, 250, 350]:
        ax.axvline(v, color='white', lw=0.9, zorder=0)
    for v in [-0.2, 0.2, 0.6, 1.0]:
        ax.axhline(v, color='white', lw=0.9, zorder=0)
    xs = np.array(g_best, dtype=float)
    ys = np.array(yvals, dtype=float)
    coef = np.polyfit(xs, ys, 1)
    xl = np.array([xs.min(), xs.max()])
    ax.plot(xl, np.polyval(coef, xl), color='#7d93c6', lw=0.8, zorder=2)
    ax.scatter(xs, ys, s=17, c=g_cmap(g_norm(g_erbb2)), edgecolors='#1a1a1a', linewidths=0.7, zorder=3)
    ax.set_xlim(-35, 447)
    ax.set_ylim(-0.25, 1.28)
    ax.set_xticks([0, 100, 200, 300, 400])
    ax.set_yticks([0.0, 0.4, 0.8, 1.2])
    ax.set_yticklabels(["0.0", "0.4", "0.8", "1.2"])
    ax.tick_params(length=2, width=0.5, labelsize=4.6, pad=1.5, color='#555', labelcolor='#444')
    ax.set_xlabel("Best average response (Trastuzumab)", fontsize=LFS, labelpad=2.5, color='#222')
    ax.set_title(ttl, fontsize=5.6, pad=2.5, color='#111')
    if k == 0:
        ax.set_ylabel("Predicted response (AUC; Afatinib)", fontsize=4.6, labelpad=4, color='#222')

# colorbar
cax = pax(650.7, 519.3, 696.7, 528.3)
cax.imshow(np.linspace(0, 1, 256)[None, :], aspect='auto', cmap=g_cmap, extent=[0, 10.5, 0, 1])
cax.set_xticks([])
cax.set_yticks([])
for s in cax.spines.values():
    s.set_visible(False)

# ---------------- overlay (letters, legends) ----------------
ov = fig.add_axes([0, 0, 1, 1], zorder=50)
ov.set_xlim(0, W)
ov.set_ylim(H, 0)
ov.axis('off')
for lab, x, y in [("a", 3, 13.5), ("b", 136, 13.5), ("c", 1, 227), ("d", 305, 13.5), ("e", 516, 13.5),
                  ("f", 303, 287), ("g", 465, 284)]:
    ov.text(x, y, lab, fontsize=12.5, fontweight='bold', ha='left', va='baseline')

# y label of the bottom row of panel c
ov.text(5, 451, "Relative loading", rotation=90, fontsize=LFS, ha='center', va='center', color='#222')


def key(x, y, w, h, fc, ec):
    ov.add_patch(Rectangle((x, y), w, h, facecolor=fc, edgecolor=ec, lw=0.5))
    ov.plot([x, x + w], [y + h / 2, y + h / 2], color=ec, lw=0.6)
    ov.plot([x + w / 2, x + w / 2], [y - 1.2, y], color=ec, lw=0.5)
    ov.plot([x + w / 2, x + w / 2], [y + h, y + h + 1.2], color=ec, lw=0.5)


# legend b
key(187.5, 149.2, 6.5, 5.5, GREEN_F, GREEN_E)
ov.text(197.5, 152, "Cell line", fontsize=4.8, va='center')
key(187.5, 160.2, 6.5, 5.5, PURP_F, PURP_E)
ov.text(197.5, 163, "PDX", fontsize=4.8, va='center')

# legend c
key(11.5, 243.5, 6.5, 5.5, GREEN_F, GREEN_E)
ov.text(21.5, 246.3, "Cell line", fontsize=4.4, va='center')
key(50, 243.5, 6.5, 5.5, PURP_F, PURP_E)
ov.text(60, 246.3, "PDX", fontsize=4.4, va='center')
ov.text(18, 261, r"$\it{P}$-value < 0.005 (*)", fontsize=3.9, va='center')
ov.text(18, 267, "Cell line | PDX", fontsize=3.9, va='center')

# legend d
ov.add_patch(Rectangle((445, 18.5), 11, 7.5, color=RAW_C))
ov.add_patch(Rectangle((445, 29.5), 11, 7.5, color=FAC_C))
ov.text(458.5, 22.5, "Raw features", fontsize=4.3, va='center')
ov.text(458.5, 33.5, "Factors", fontsize=4.3, va='center')

# legend / strips f
ov.add_patch(Rectangle((338.3, 297.7), 11, 6, color='#a9bae3'))
ov.text(352, 300.7, "Raw", fontsize=4.8, va='center')
ov.add_patch(Rectangle((377.7, 297.7), 11, 6, color='#e8b48a'))
ov.text(391, 300.7, "Factor", fontsize=4.8, va='center')
ov.add_patch(Rectangle((337.7, 305.7), 38.3, 8, color='#4fae45'))
ov.text(356.8, 309.9, "CELL", fontsize=4.8, va='center', ha='center', color='#d9f5d0')
ov.add_patch(Rectangle((377.7, 305.7), 38.3, 8, color='#9e42a6'))
ov.text(396.8, 309.9, "PDX", fontsize=4.8, va='center', ha='center', color='#f3d6f5')
for j, name in enumerate(f_drugs):
    col, row = (0, j) if j < 4 else (1, j - 4)
    xm = 323 + col * 57.7
    ym = 492.7 + row * 12.8
    ov.scatter([xm], [ym], s=5, c=f_dcol[j], alpha=0.45, lw=0)
    ov.text(xm + 7.5, ym, name, fontsize=4.7, va='center', color='#222')

# g title and colorbar labels
ov.text(648.3, 296.5, "Trastuzumab response", fontsize=7.5, ha='center', va='center', color='#111')
ov.text(702.5, 524.5, "ERBB2\nExpression", fontsize=4.5, ha='left', va='center', linespacing=1.0, color='#333')
for v, t in [(0.0, "0.0"), (5.0, "5.0"), (10.0, "10.0")]:
    ov.text(650.7 + v / 10.5 * 46, 534.5, t, fontsize=4.5, ha='center', va='center', color='#333')

fig.savefig("out.png", dpi=100)
